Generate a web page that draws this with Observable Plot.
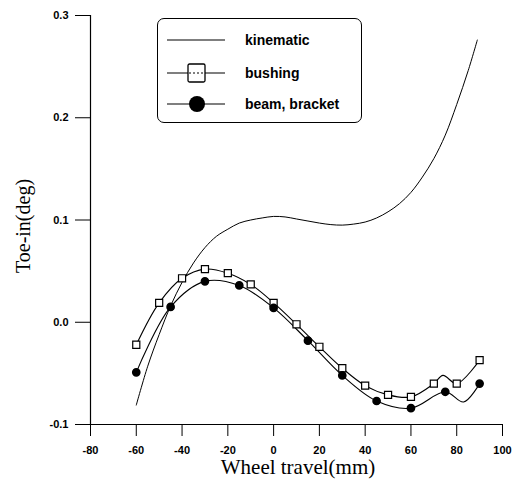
<!DOCTYPE html>
<html>
<head>
<meta charset="utf-8">
<script src="https://cdn.jsdelivr.net/npm/d3@7"></script>
<script src="https://cdn.jsdelivr.net/npm/@observablehq/plot@0.6"></script>
<style>
  html, body { margin: 0; padding: 0; background: #fff; }
  #wrap { position: relative; width: 524px; height: 480px; }
  #legend {
    position: absolute; left: 157px; top: 18px; width: 203px; height: 103px;
    border: 1.5px solid #000; border-radius: 7px; background: #fff;
    font-family: "Liberation Sans", Arial, sans-serif; font-weight: bold; font-size: 14px;
  }
  .row { position: absolute; left: 0; height: 24px; display: flex; align-items: center; }
  .row svg { display: block; }
  .row span { margin-left: 17px; }
</style>
</head>
<body>
<div id="wrap"></div>
<script>
// x tick values and labels
const xTicks = [-80, -60, -40, -20, 0, 20, 40, 60, 80, 100];
const yTicks = [-0.1, 0.0, 0.1, 0.2, 0.3];

// kinematic curve
const kinX = [-60, -55, -50, -45, -40, -35, -30, -25, -20, -15, -10, -5, 0, 5, 10, 15, 20, 25, 30, 35, 40, 45, 50, 55, 60, 65, 70, 75, 80, 85, 89];
const kinY = [-0.081, -0.043, -0.012, 0.016, 0.039, 0.058, 0.073, 0.084, 0.091, 0.097, 0.100, 0.102, 0.1035, 0.103, 0.101, 0.099, 0.097, 0.0955, 0.095, 0.096, 0.098, 0.102, 0.108, 0.116, 0.127, 0.142, 0.160, 0.183, 0.213, 0.246, 0.276];

// bushing markers
const bushX = [-60, -50, -40, -30, -20, -10, 0, 10, 20, 30, 40, 50, 60, 70, 80, 90];
const bushY = [-0.022, 0.019, 0.043, 0.052, 0.048, 0.037, 0.019, -0.002, -0.024, -0.045, -0.062, -0.071, -0.073, -0.060, -0.060, -0.037];
// bushing curve (markers plus the bump near 74 mm)
const bushLineX = [-60, -50, -40, -30, -20, -10, 0, 10, 20, 30, 40, 50, 60, 70, 74, 80, 90];
const bushLineY = [-0.022, 0.019, 0.043, 0.052, 0.048, 0.037, 0.019, -0.002, -0.024, -0.045, -0.062, -0.071, -0.073, -0.060, -0.052, -0.060, -0.037];

// beam, bracket markers
const beamX = [-60, -45, -30, -15, 0, 15, 30, 45, 60, 75, 90];
const beamY = [-0.049, 0.015, 0.040, 0.036, 0.014, -0.018, -0.052, -0.077, -0.084, -0.068, -0.060];
// beam curve (markers plus the dip near 83 mm)
const beamLineX = [-60, -45, -30, -15, 0, 15, 30, 45, 60, 75, 83, 90];
const beamLineY = [-0.049, 0.015, 0.040, 0.036, 0.014, -0.018, -0.052, -0.077, -0.084, -0.068, -0.078, -0.060];

const seriesNames = ["kinematic", "bushing", "beam, bracket"];

const zip = (xs, ys) => xs.map((x, i) => ({x, y: ys[i]}));
const kin = zip(kinX, kinY);
const bush = zip(bushX, bushY);
const bushLine = zip(bushLineX, bushLineY);
const beam = zip(beamX, beamY);
const beamLine = zip(beamLineX, beamLineY);

const chart = Plot.plot({
  width: 524,
  height: 480,
  marginLeft: 90,
  marginRight: 22,
  marginTop: 15,
  marginBottom: 56,
  style: {fontFamily: "'Liberation Sans', Arial, sans-serif", fontSize: "11px", fontWeight: "bold", background: "#fff", color: "#000"},
  x: {domain: [-80, 100], ticks: xTicks, tickFormat: d => String(d), tickSize: 12, tickPadding: 10, label: null},
  y: {domain: [-0.1, 0.3], ticks: yTicks, tickFormat: d => d.toFixed(1), tickSize: 15, tickPadding: 7, label: null},
  marks: [
    Plot.ruleX([-80], {stroke: "#000", strokeWidth: 1.2}),
    Plot.ruleY([-0.1], {stroke: "#000", strokeWidth: 1.2}),
    Plot.line(kin, {x: "x", y: "y", curve: "catmull-rom", stroke: "#000", strokeWidth: 1}),
    Plot.line(bushLine, {x: "x", y: "y", curve: "catmull-rom", stroke: "#000", strokeWidth: 1.1}),
    Plot.line(beamLine, {x: "x", y: "y", curve: "catmull-rom", stroke: "#000", strokeWidth: 1.1}),
    Plot.dot(bush, {x: "x", y: "y", symbol: "square", r: 4, fill: "#fff", stroke: "#000", strokeWidth: 1.2}),
    Plot.dot(beam, {x: "x", y: "y", symbol: "circle", r: 3.6, fill: "#000", stroke: "#000"})
  ]
});

const wrap = document.getElementById("wrap");
wrap.appendChild(chart);

// axis titles (serif, as in the reference)
const svg = d3.select(chart);
svg.append("text")
  .attr("x", 298).attr("y", 474)
  .attr("text-anchor", "middle")
  .style("font-family", "'Liberation Serif', 'Times New Roman', serif")
  .style("font-size", "21px").style("font-weight", "normal")
  .text("Wheel travel(mm)");
svg.append("text")
  .attr("transform", "translate(30,226) rotate(-90)")
  .attr("text-anchor", "middle")
  .style("font-family", "'Liberation Serif', 'Times New Roman', serif")
  .style("font-size", "20px").style("font-weight", "normal")
  .text("Toe-in(deg)");

// legend
const legend = document.createElement("div");
legend.id = "legend";
const rowsTop = [9, 42, 73];
seriesNames.forEach((name, i) => {
  const row = document.createElement("div");
  row.className = "row";
  row.style.top = rowsTop[i] + "px";
  const s = d3.create("svg").attr("width", 70).attr("height", 24);
  s.append("line").attr("x1", 9).attr("x2", 67).attr("y1", 12).attr("y2", 12).attr("stroke", "#000").attr("stroke-width", 1.2);
  if (i === 1) {
    s.append("rect").attr("x", 30).attr("y", 3).attr("width", 17).attr("height", 18).attr("rx", 1.5).attr("fill", "#fff").attr("stroke", "#000").attr("stroke-width", 1.3);
    s.append("line").attr("x1", 31).attr("x2", 46).attr("y1", 12).attr("y2", 12).attr("stroke", "#000").attr("stroke-dasharray", "2,2");
  } else if (i === 2) {
    s.append("circle").attr("cx", 39).attr("cy", 12).attr("r", 8).attr("fill", "#000");
  }
  row.appendChild(s.node());
  const t = document.createElement("span");
  t.textContent = name;
  row.appendChild(t);
  legend.appendChild(row);
});
wrap.appendChild(legend);
</script>
</body>
</html>
